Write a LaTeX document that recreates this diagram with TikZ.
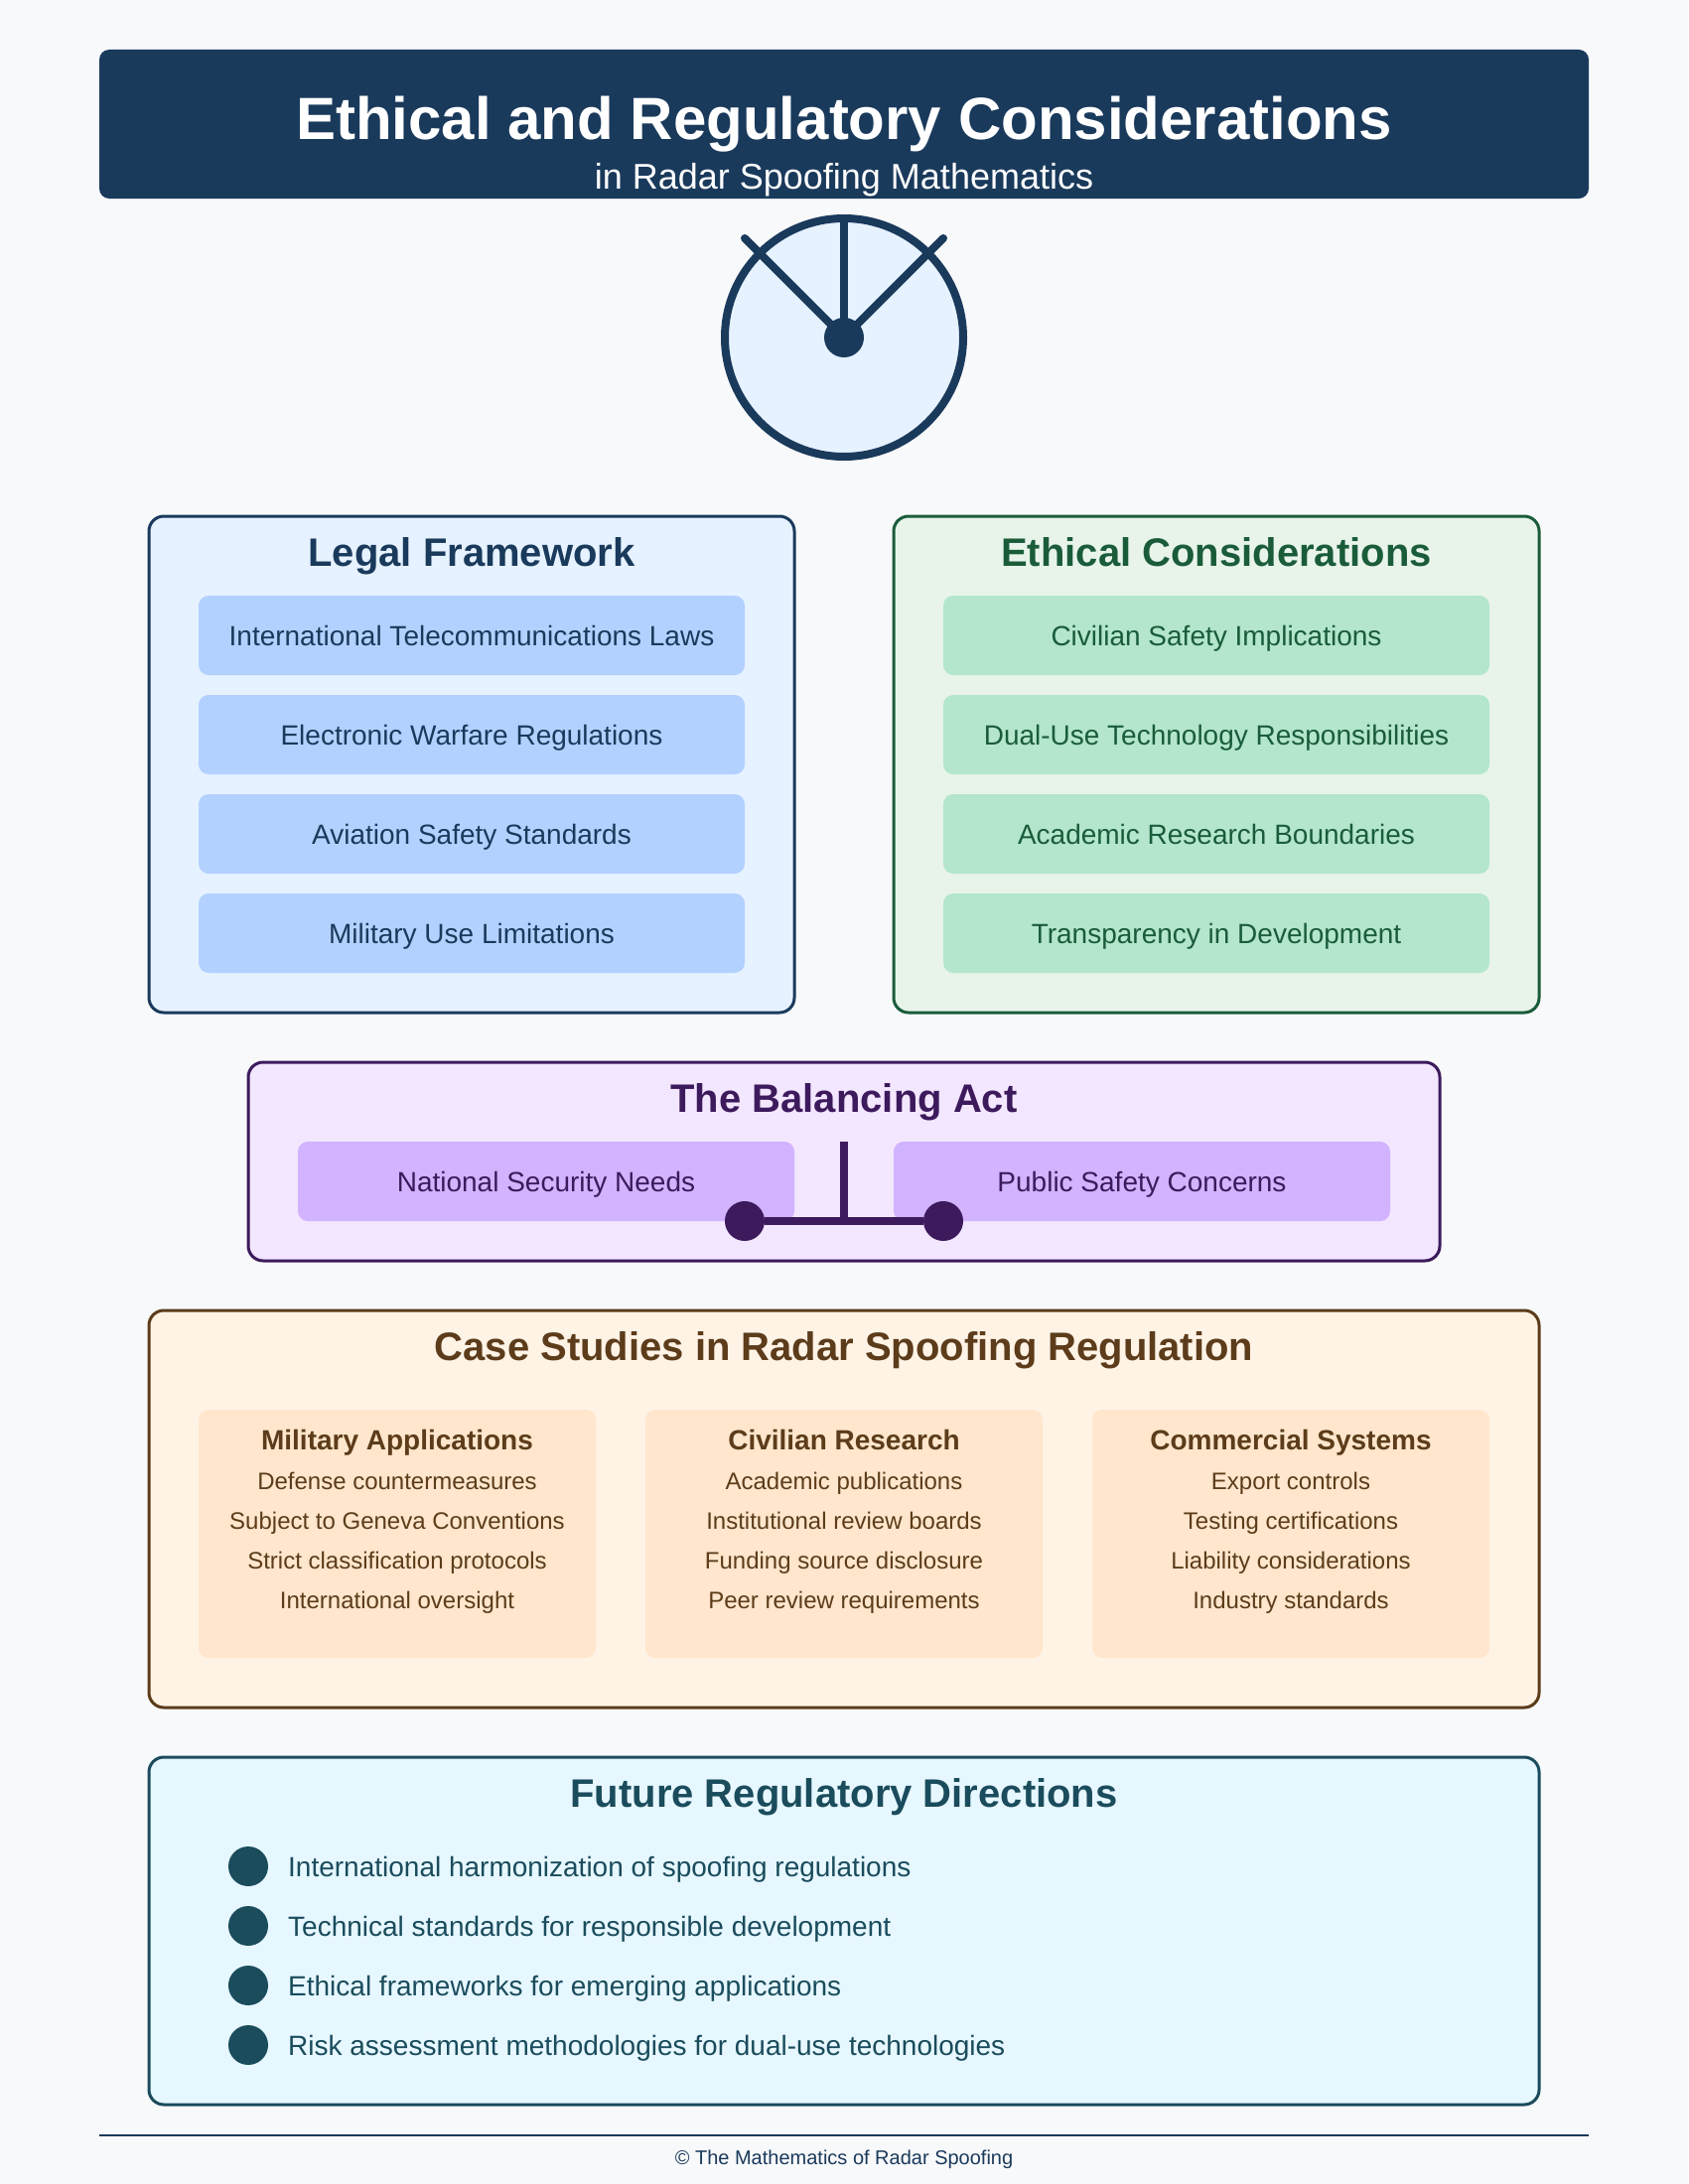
\documentclass[tikz,border=0pt]{standalone}
\usepackage{fontspec}
\setmainfont{Liberation Sans}
\definecolor{pagebg}{HTML}{F8F9FA}
\definecolor{navy}{HTML}{1A3A5C}
\definecolor{legalfill}{HTML}{E6F2FF}
\definecolor{legalitem}{HTML}{B3D1FF}
\definecolor{ethink}{HTML}{1A5C3A}
\definecolor{ethfill}{HTML}{E8F4EA}
\definecolor{ethitem}{HTML}{B3E6CC}
\definecolor{balink}{HTML}{3C1A5C}
\definecolor{balfill}{HTML}{F3E6FF}
\definecolor{balitem}{HTML}{D1B3FF}
\definecolor{caseink}{HTML}{5C3C1A}
\definecolor{casefill}{HTML}{FFF3E6}
\definecolor{caseitem}{HTML}{FFE6CC}
\definecolor{futink}{HTML}{1A4C5C}
\definecolor{futfill}{HTML}{E6F7FF}
\newcommand{\fs}[1]{\fontsize{#1}{#1}\selectfont}
\tikzset{
  panel/.style={draw=#1,line width=3pt,rounded corners=15pt},
  ptitle/.style={anchor=base,font=\fs{40}\bfseries,text=#1,inner sep=0pt},
  itembox/.style n args={2}{fill=#1,text=#2,rounded corners=10pt,inner sep=0pt,
    minimum width=550pt,text height=50pt,text depth=30pt,font=\fs{28}},
  balbox/.style={itembox={balitem}{balink},minimum width=500pt},
  casebox/.style={fill=caseitem,rounded corners=10pt},
  casehead/.style={anchor=base,font=\fs{28}\bfseries,text=caseink,inner sep=0pt},
  caseline/.style={anchor=base,font=\fs{24},text=caseink,inner sep=0pt},
  bullet/.style={circle,fill=futink,minimum size=40pt,inner sep=0pt},
  futline/.style={anchor=base west,font=\fs{28},text=futink,inner sep=0pt},
  spoke/.style={draw=navy,line width=8pt,line cap=round},
  beam/.style={draw=balink,line width=8pt},
  pivot/.style={circle,fill=balink,minimum size=40pt,inner sep=0pt},
}
\begin{document}
\begin{tikzpicture}[x=1pt,y=-1pt]
\useasboundingbox (0,0) rectangle (1700,2200);
\fill[pagebg] (0,0) rectangle (1700,2200);

% header
\fill[navy,rounded corners=10pt] (100,50) rectangle (1600,200);
\node[anchor=base,font=\fs{60}\bfseries,text=white,inner sep=0pt] (title) at (850,140) {Ethical and Regulatory Considerations};
\node[anchor=base,font=\fs{36},text=white,inner sep=0pt] (subtitle) at (850,190) {in Radar Spoofing Mathematics};

% radar icon
\draw[navy,fill=legalfill,line width=8pt] (850,340) circle [radius=120pt];
\coordinate (tipL) at (750,240);
\coordinate (tipM) at (850,220);
\coordinate (tipR) at (950,240);
\coordinate (hubc) at (850,340);
\draw[spoke] (hubc) -- (tipL);
\draw[spoke] (hubc) -- (tipM);
\draw[spoke] (hubc) -- (tipR);
\node[circle,fill=navy,minimum size=40pt,inner sep=0pt] (hub) at (850,340) {};

% legal framework
\draw[panel=navy,fill=legalfill] (150,520) rectangle (800,1020);
\node[ptitle=navy] (legalT) at (475,570) {Legal Framework};
\node[itembox={legalitem}{navy}] (l1) at (475,640) {International Telecommunications Laws};
\node[itembox={legalitem}{navy}] (l2) at (475,740) {Electronic Warfare Regulations};
\node[itembox={legalitem}{navy}] (l3) at (475,840) {Aviation Safety Standards};
\node[itembox={legalitem}{navy}] (l4) at (475,940) {Military Use Limitations};

% ethical considerations
\draw[panel=ethink,fill=ethfill] (900,520) rectangle (1550,1020);
\node[ptitle=ethink] (ethT) at (1225,570) {Ethical Considerations};
\node[itembox={ethitem}{ethink}] (e1) at (1225,640) {Civilian Safety Implications};
\node[itembox={ethitem}{ethink}] (e2) at (1225,740) {Dual-Use Technology Responsibilities};
\node[itembox={ethitem}{ethink}] (e3) at (1225,840) {Academic Research Boundaries};
\node[itembox={ethitem}{ethink}] (e4) at (1225,940) {Transparency in Development};

% balancing act
\draw[panel=balink,fill=balfill] (250,1070) rectangle (1450,1270);
\node[ptitle=balink] (balT) at (850,1120) {The Balancing Act};
\node[balbox] (b1) at (550,1190) {National Security Needs};
\node[balbox] (b2) at (1150,1190) {Public Safety Concerns};
\coordinate (post) at (850,1150);
\coordinate (mid) at (850,1230);
\node[pivot] (pL) at (750,1230) {};
\node[pivot] (pR) at (950,1230) {};
\draw[beam] (post) -- (mid);
\draw[beam] (pL) -- (pR);

% case studies
\draw[panel=caseink,fill=casefill] (150,1320) rectangle (1550,1720);
\node[ptitle=caseink] (caseT) at (850,1370) {Case Studies in Radar Spoofing Regulation};
\fill[casebox] (200,1420) rectangle (600,1670);
\fill[casebox] (650,1420) rectangle (1050,1670);
\fill[casebox] (1100,1420) rectangle (1500,1670);
\node[casehead] (c1h) at (400,1460) {Military Applications};
\node[caseline] (c1a) at (400,1500) {Defense countermeasures};
\node[caseline] (c1b) at (400,1540) {Subject to Geneva Conventions};
\node[caseline] (c1c) at (400,1580) {Strict classification protocols};
\node[caseline] (c1d) at (400,1620) {International oversight};
\node[casehead] (c2h) at (850,1460) {Civilian Research};
\node[caseline] (c2a) at (850,1500) {Academic publications};
\node[caseline] (c2b) at (850,1540) {Institutional review boards};
\node[caseline] (c2c) at (850,1580) {Funding source disclosure};
\node[caseline] (c2d) at (850,1620) {Peer review requirements};
\node[casehead] (c3h) at (1300,1460) {Commercial Systems};
\node[caseline] (c3a) at (1300,1500) {Export controls};
\node[caseline] (c3b) at (1300,1540) {Testing certifications};
\node[caseline] (c3c) at (1300,1580) {Liability considerations};
\node[caseline] (c3d) at (1300,1620) {Industry standards};

% future directions
\draw[panel=futink,fill=futfill] (150,1770) rectangle (1550,2120);
\node[ptitle=futink] (futT) at (850,1820) {Future Regulatory Directions};
\node[bullet] (f1b) at (250,1880) {};
\node[bullet] (f2b) at (250,1940) {};
\node[bullet] (f3b) at (250,2000) {};
\node[bullet] (f4b) at (250,2060) {};
\node[futline] (f1) at (290,1890) {International harmonization of spoofing regulations};
\node[futline] (f2) at (290,1950) {Technical standards for responsible development};
\node[futline] (f3) at (290,2010) {Ethical frameworks for emerging applications};
\node[futline] (f4) at (290,2070) {Risk assessment methodologies for dual-use technologies};

% footer
\draw[navy,line width=2pt] (100,2151) -- (1600,2151);
\node[anchor=base,font=\fs{20},text=navy,inner sep=0pt] (foot) at (850,2180) {© The Mathematics of Radar Spoofing};
\end{tikzpicture}
\end{document}
